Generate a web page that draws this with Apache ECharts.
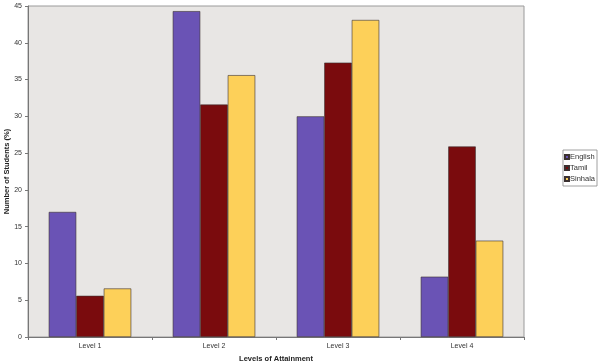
<!DOCTYPE html>
<html><head><meta charset="utf-8">
<script src="https://cdn.jsdelivr.net/npm/echarts@6/dist/echarts.min.js"></script>
<style>html,body{margin:0;padding:0;background:#fff}#c{width:599px;height:363px}</style>
</head><body><div id="c"></div>
<script>
const categories = ['Level 1','Level 2','Level 3','Level 4'];
const english = [17.0, 44.3, 30.0, 8.2];
const tamil = [5.6, 31.6, 37.3, 25.9];
const sinhala = [6.6, 35.6, 43.1, 13.1];
const yTicks = [0,5,10,15,20,25,30,35,40,45];

const chart = echarts.init(document.getElementById('c'), null, {renderer:'canvas'});
const font = 'Liberation Sans, Arial, sans-serif';
function bar(name, data, color){
  return {name, type:'bar', data, barWidth:27.5, barGap:'0%',
    itemStyle:{color, borderColor:'#3a3030', borderWidth:0.6}};
}
chart.setOption({
  animation:false,
  backgroundColor:'#ffffff',
  grid:{left:28, right:75, top:6, bottom:26, outerBoundsMode:'none', containLabel:false,
    show:true, backgroundColor:'#e8e6e4', borderColor:'#9a9a9a', borderWidth:1},
  legend:{orient:'vertical', right:2, top:150, itemWidth:4, itemHeight:4, itemGap:3,
    icon:'rect', padding:[3,2,3,1], borderColor:'#888', borderWidth:0.8,
    textStyle:{fontSize:7.5, fontFamily:font, color:'#333', padding:[0,0,0,-4]},
    data:['English','Tamil','Sinhala']},
  xAxis:{type:'category', data:categories, name:'Levels of Attainment', nameLocation:'middle', nameGap:18,
    nameMoveOverlap:false,
    nameTextStyle:{fontSize:7.5, fontWeight:'bold', fontFamily:font, color:'#222'},
    axisLine:{lineStyle:{color:'#777'}}, axisTick:{show:true, length:3, lineStyle:{color:'#777'}},
    axisLabel:{fontSize:7, fontFamily:font, color:'#333', margin:6}},
  yAxis:{type:'value', min:0, max:45, interval:5, name:'Number of Students (%)', nameLocation:'middle', nameGap:17,
    nameMoveOverlap:false,
    nameTextStyle:{fontSize:7.5, fontWeight:'bold', fontFamily:font, color:'#222'},
    axisLine:{show:true, lineStyle:{color:'#777'}}, axisTick:{show:true, length:3, lineStyle:{color:'#777'}},
    splitLine:{show:false},
    axisLabel:{fontSize:7, fontFamily:font, color:'#333', margin:6,
      formatter:v=>yTicks.includes(v)?String(v):''}},
  series:[bar('English', english, '#6a53b5'), bar('Tamil', tamil, '#7a0b0d'), bar('Sinhala', sinhala, '#fdd059')]
});
</script></body></html>
